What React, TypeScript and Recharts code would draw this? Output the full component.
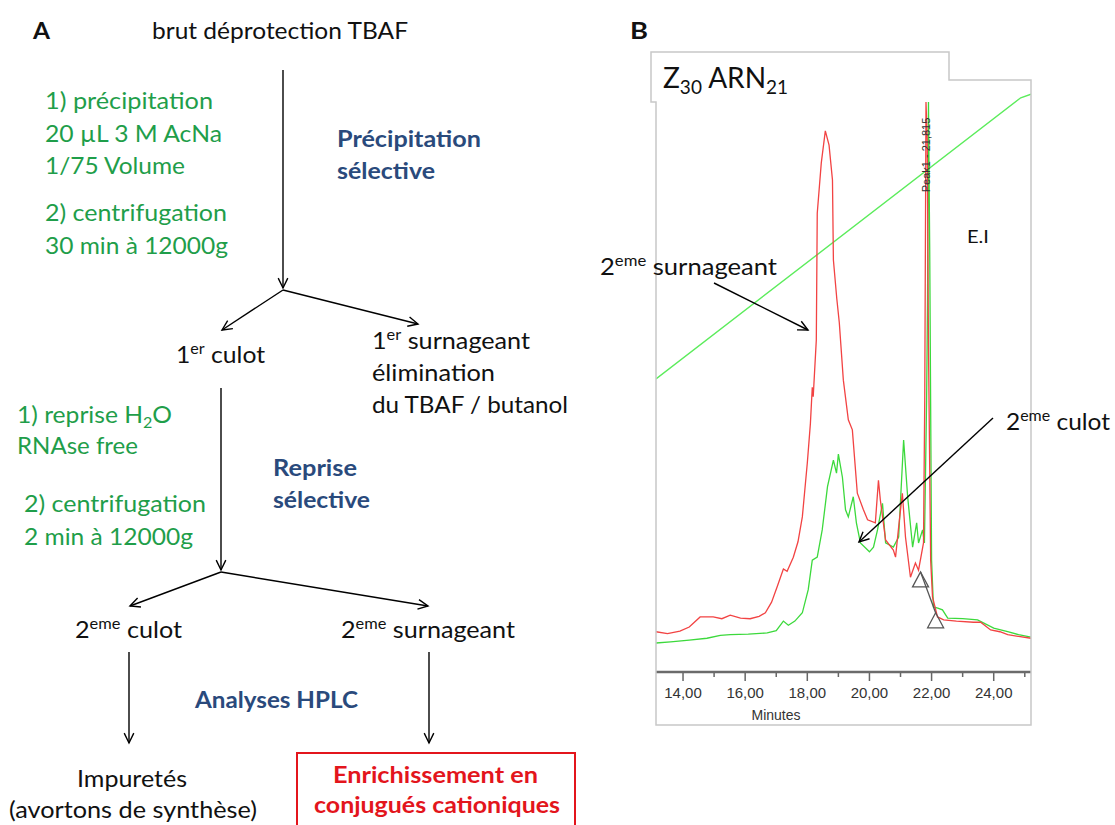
import React from 'react'
import { LineChart, Line, XAxis, YAxis } from 'recharts'

// retention time (min) / signal (% of full scale)
const surnageantMinutes = [
  13.13, 13.5, 13.9, 14.2, 14.55, 14.97, 15.25, 15.52, 15.85, 16.16, 16.45, 16.65, 16.85, 17.03, 17.23, 17.35,
  17.55, 17.7, 17.84, 18.0, 18.1, 18.16, 18.19, 18.29, 18.32, 18.45, 18.58, 18.7, 18.81, 18.84, 18.95,
  19.03, 19.16, 19.32, 19.45, 19.61, 19.8, 19.94, 20.19, 20.29, 20.35, 20.52, 20.77, 20.84, 20.94,
  21.06, 21.16, 21.32, 21.48, 21.58, 21.74, 21.78, 21.82, 21.86, 21.9, 21.97, 22.03, 22.19, 22.39,
  22.8, 23.35, 23.58, 23.9, 24.2, 24.45, 24.8, 25.2,
]
const surnageantSignal = [
  6.8, 6.5, 6.9, 7.6, 9.3, 9.3, 9.0, 9.6, 9.1, 9.0, 9.4, 10.0, 11.8, 14.4, 17.4, 17.0,
  19.4, 22.0, 26.2, 35.3, 42.0, 48.1, 46.5, 56.1, 77.5, 86.0, 91.4, 89.0, 83.1, 69.6, 63.0,
  59.0, 49.3, 42.6, 40.9, 30.2, 27.5, 25.7, 25.2, 32.4, 29.1, 22.3, 20.6, 19.4, 24.5,
  30.2, 22.8, 16.0, 18.4, 17.2, 21.8, 45.9, 96.3, 90.0, 55.0, 18.9, 12.7, 9.3, 8.8,
  8.6, 8.4, 8.4, 7.1, 6.8, 6.3, 6.0, 5.7,
]
const culotMinutes = [
  13.13, 13.6, 14.2, 14.77, 15.2, 15.52, 16.1, 16.71, 17.0, 17.23, 17.39, 17.6, 17.84, 18.03, 18.16,
  18.32, 18.48, 18.65, 18.84, 18.94, 19.0, 19.13, 19.23, 19.32, 19.48, 19.58, 19.71, 20.0, 20.13,
  20.26, 20.42, 20.52, 20.77, 20.94, 21.1, 21.23, 21.39, 21.52, 21.58, 21.71, 21.77, 21.84, 21.87,
  21.9, 21.94, 22.0, 22.06, 22.2, 22.35, 22.52, 23.0, 23.48, 24.0, 24.45, 24.8, 25.2,
]
const culotSignal = [
  4.9, 5.1, 5.4, 5.7, 6.2, 6.3, 6.4, 6.6, 7.0, 8.6, 7.9, 8.6, 10.0, 13.9, 18.9,
  19.4, 24.0, 31.3, 35.8, 33.6, 36.8, 32.9, 27.4, 26.2, 29.6, 25.2, 21.8, 20.3, 21.1,
  24.0, 28.5, 21.8, 21.1, 22.8, 39.2, 29.6, 21.1, 25.2, 21.8, 24.0, 21.8, 45.9, 62.8,
  96.3, 71.3, 18.9, 11.0, 10.8, 10.5, 9.1, 9.0, 8.8, 7.4, 6.8, 6.3, 5.9,
]
// solvent gradient trace
const gradientMinutes = [13.13, 24.87, 25.2]
const gradientPercent = [49.5, 97.0, 97.6]
// integration marks of Peak1
const peakMarkMinutes = [21.645, 22.13]
const peakMarkSignal = [16.9, 10.0]
const minuteTicks = [
  13.5, 14, 14.5, 15, 15.5, 16, 16.5, 17, 17.5, 18, 18.5, 19, 19.5, 20, 20.5, 21, 21.5, 22, 22.5, 23, 23.5, 24, 24.5, 25,
]
const majorMinutes = [14, 16, 18, 20, 22, 24]

const toPoints = (t: number[], v: number[]) => t.map((m, i) => ({ t: m, v: v[i] }))

const FONT = 'Lato, "Open Sans", sans-serif'
const GREEN = '#1f9e4a'
const BLUE = '#2a4a7c'
const RED = '#e3151c'

const MinuteTick = (props: any) => {
  const { x, y, payload } = props
  const major = majorMinutes.includes(payload.value)
  return (
    <g>
      <line x1={x} x2={x} y1={y + 1} y2={y + (major ? 9 : 5)} stroke="#666" strokeWidth={1.5} />
      {major && (
        <text x={x} y={y + 26} textAnchor="middle" fontFamily="Arial, 'Liberation Sans'" fontSize={15} fill="#333">
          {payload.value.toFixed(2).replace('.', ',')}
        </text>
      )}
    </g>
  )
}

const Triangle = (props: any) => {
  const { cx, cy } = props
  return <path d={`M${cx},${cy} L${cx + 8},${cy + 15} L${cx - 8},${cy + 15} Z`} fill="none" stroke="#555" strokeWidth={1.3} />
}

function Arrow({ x1, y1, x2, y2 }: { x1: number; y1: number; x2: number; y2: number }) {
  const a = Math.atan2(y2 - y1, x2 - x1)
  const h = 11
  const s = 0.45
  const p1 = `${x2 - h * Math.cos(a - s)},${y2 - h * Math.sin(a - s)}`
  const p2 = `${x2 - h * Math.cos(a + s)},${y2 - h * Math.sin(a + s)}`
  return (
    <g stroke="#000" strokeWidth={1.4} fill="none">
      <line x1={x1} y1={y1} x2={x2} y2={y2} />
      <polyline points={`${p1} ${x2},${y2} ${p2}`} />
    </g>
  )
}

function T({ x, y, w, children, size = 23, fill = '#111', bold = false }: any) {
  return (
    <text
      x={x}
      y={y}
      fontFamily={FONT}
      fontSize={size}
      fill={fill}
      fontWeight={bold ? 700 : 400}
      textLength={w}
      lengthAdjust="spacingAndGlyphs"
    >
      {children}
    </text>
  )
}

// "1er culot" style text: lead, raised suffix, rest back on the baseline
function SupText({ x, y, w, lead, sup, rest }: any) {
  return (
    <T x={x} y={y} w={w}>
      {lead}
      <tspan fontSize={15} dy={-9}>{sup}</tspan>
      <tspan dy={9}>{rest}</tspan>
    </T>
  )
}

export default function App() {
  const surnageant = toPoints(surnageantMinutes, surnageantSignal)
  const culot = toPoints(culotMinutes, culotSignal)
  const gradient = toPoints(gradientMinutes, gradientPercent)
  const peakMarks = toPoints(peakMarkMinutes, peakMarkSignal)

  return (
    <div style={{ position: 'absolute', left: 0, top: 0, width: 1115, height: 825, background: '#fff', overflow: 'hidden' }}>
      <div style={{ position: 'absolute', left: 0, top: 0 }}>
        <LineChart width={1115} height={825} margin={{ top: 80, right: 84, bottom: 123, left: 656 }}>
          <XAxis
            type="number"
            dataKey="t"
            domain={[13.13, 25.2]}
            ticks={minuteTicks}
            height={30}
            tickSize={0}
            tickMargin={0}
            tick={<MinuteTick />}
            axisLine={{ stroke: '#6b6b6b', strokeWidth: 2.5 }}
            allowDataOverflow
            label={{
              value: 'Minutes',
              content: () => (
                <text x={776} y={720} textAnchor="middle" fontFamily="Arial, 'Liberation Sans'" fontSize={14} fill="#333">
                  Minutes
                </text>
              ),
            }}
          />
          <YAxis hide type="number" domain={[0, 100]} allowDataOverflow />
          <Line data={gradient} dataKey="v" type="linear" stroke="#5cec5c" strokeWidth={1.4} dot={false} isAnimationActive={false} />
          <Line data={culot} dataKey="v" type="linear" stroke="#3cd93c" strokeWidth={1.3} dot={false} isAnimationActive={false} />
          <Line data={surnageant} dataKey="v" type="linear" stroke="#f24343" strokeWidth={1.3} dot={false} isAnimationActive={false} />
          <Line data={peakMarks} dataKey="v" type="linear" stroke="#555" strokeWidth={1.3} dot={<Triangle />} isAnimationActive={false} />
        </LineChart>
      </div>

      <svg width={1115} height={825} style={{ position: 'absolute', left: 0, top: 0, pointerEvents: 'none' }}>
        {/* chromatogram frame */}
        <path d="M656,725 L656,102 L651,102 L651,52 L949,52 L949,80 L1031,80 L1031,725 Z" fill="none" stroke="#c8c8c8" strokeWidth={1.5} />
        <text x={663} y={88} fontFamily={FONT} fontSize={28} fill="#111">
          Z<tspan fontSize={19} dy={6}>30</tspan>
          <tspan dy={-6}> ARN</tspan>
          <tspan fontSize={19} dy={6}>21</tspan>
        </text>
        <text
          x={0}
          y={0}
          transform="translate(930,155) rotate(-90)"
          textAnchor="middle"
          fontFamily="Arial, 'Liberation Sans'"
          fontSize={11}
          fill="#333"
        >
          Peak1 - 21,815
        </text>
        <T x={967} y={243} w={22} size={18}>E.I</T>
        <SupText x={600} y={275} w={177} lead="2" sup="eme" rest=" surnageant" />
        <Arrow x1={714} y1={283} x2={808} y2={330} />
        <SupText x={1006} y={430} w={104} lead="2" sup="eme" rest=" culot" />
        <Arrow x1={993} y1={418} x2={859} y2={542} />

        {/* panel labels */}
        <T x={33} y={39} w={17} size={23} bold>A</T>
        <T x={630} y={39} w={18} size={23} bold>B</T>

        {/* flowchart */}
        <T x={152} y={39} w={256}>brut déprotection TBAF</T>
        <Arrow x1={283} y1={70} x2={283} y2={288} />
        <Arrow x1={283} y1={290} x2={222} y2={330} />
        <Arrow x1={283} y1={290} x2={418} y2={324} />

        <T x={45} y={109} w={168} fill={GREEN}>1) précipitation</T>
        <T x={45} y={142} w={177} fill={GREEN}>20 µL  3 M AcNa</T>
        <T x={45} y={174} w={140} fill={GREEN}>1/75 Volume</T>
        <T x={45} y={221} w={182} fill={GREEN}>2) centrifugation</T>
        <T x={45} y={254} w={183} fill={GREEN}>30 min à 12000g</T>

        <T x={337} y={147} w={144} size={22} fill={BLUE} bold>Précipitation</T>
        <T x={337} y={179} w={98} size={22} fill={BLUE} bold>sélective</T>

        <SupText x={176} y={363} w={89} lead="1" sup="er" rest=" culot" />
        <SupText x={372} y={349} w={158} lead="1" sup="er" rest=" surnageant" />
        <T x={372} y={381} w={123}>élimination</T>
        <T x={372} y={413} w={196}>du TBAF / butanol</T>

        <Arrow x1={221} y1={388} x2={221} y2={570} />
        <Arrow x1={221} y1={572} x2={130} y2={606} />
        <Arrow x1={221} y1={572} x2={428} y2={606} />

        <text x={17} y={423} fontFamily={FONT} fontSize={23} fill={GREEN} textLength={155} lengthAdjust="spacingAndGlyphs">
          1) reprise H<tspan fontSize={15} dy={5}>2</tspan>
          <tspan dy={-5}>O</tspan>
        </text>
        <T x={17} y={454} w={121} fill={GREEN}>RNAse free</T>
        <T x={24} y={512} w={182} fill={GREEN}>2) centrifugation</T>
        <T x={24} y={545} w={169} fill={GREEN}>2 min à 12000g</T>

        <T x={273} y={476} w={84} size={22} fill={BLUE} bold>Reprise</T>
        <T x={273} y={508} w={97} size={22} fill={BLUE} bold>sélective</T>

        <SupText x={75} y={638} w={107} lead="2" sup="eme" rest=" culot" />
        <SupText x={341} y={638} w={174} lead="2" sup="eme" rest=" surnageant" />

        <Arrow x1={129} y1={652} x2={129} y2={743} />
        <Arrow x1={429} y1={652} x2={429} y2={743} />
        <T x={195} y={708} w={163} size={22} fill={BLUE} bold>Analyses HPLC</T>

        <T x={77} y={787} w={110}>Impuretés</T>
        <T x={9} y={818} w={248}>(avortons de synthèse)</T>

        <rect x={297} y={753} width={278} height={90} fill="none" stroke={RED} strokeWidth={2} />
        <T x={333} y={783} w={205} size={22} fill={RED} bold>Enrichissement en</T>
        <T x={314} y={813} w={246} size={22} fill={RED} bold>conjugués cationiques</T>
      </svg>
    </div>
  )
}
